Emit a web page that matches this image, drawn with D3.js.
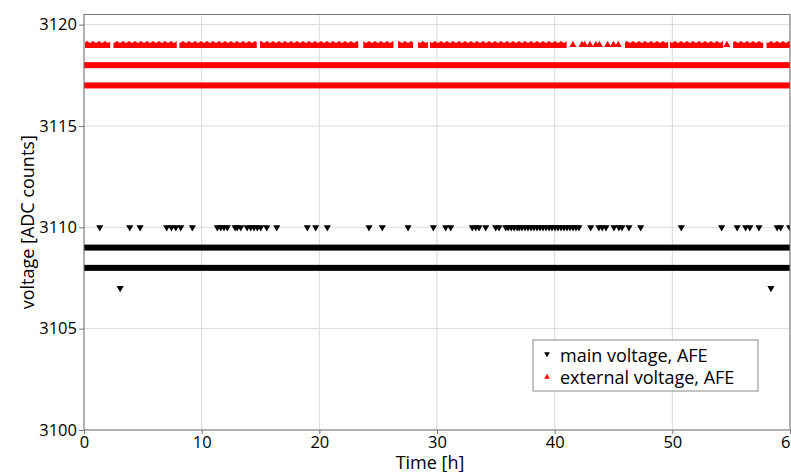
<!DOCTYPE html>
<html>
<head>
<meta charset="utf-8">
<script src="https://cdn.jsdelivr.net/npm/d3@7"></script>
<style>
  body { margin: 0; overflow: hidden; background: #fff; }
  text { font-family: "Open Sans", sans-serif; }
</style>
</head>
<body>
<div id="chart"></div>
<script>
// ---- data ----
const xTicks = [0, 10, 20, 30, 40, 50, 60];
const yTicks = [3100, 3105, 3110, 3115, 3120];

// main voltage: continuous sample runs [value, tStart, tEnd]
const mainRuns = [
  [3109, 0, 60],
  [3108, 0, 60]
];
// main voltage: sparse samples at 3110
const main3110 = [1.34, 3.89, 4.77, 7.03, 7.43, 7.80, 8.22, 9.21, 11.33, 11.62, 11.90, 12.18,
  12.84, 13.03, 13.32, 13.86, 14.17, 14.45, 14.73, 15.02, 15.53, 16.38, 18.98, 19.69, 20.68,
  24.22, 25.35, 27.54, 29.69, 30.74, 31.16, 33.00, 33.29, 33.57, 34.14, 34.99, 35.27,
  35.84, 36.05, 36.31, 36.56, 36.82, 36.99, 37.22, 37.48, 37.73, 37.99, 38.24, 38.50, 38.75,
  39.01, 39.26, 39.52, 39.77, 40.03, 40.28, 40.54, 40.79, 41.05, 41.30, 41.56, 41.81, 42.06,
  43.06, 43.76, 44.04, 44.36, 45.04, 45.46, 45.72, 46.31, 47.31, 50.76, 54.19, 55.51, 56.23,
  56.59, 57.36, 58.91, 59.20, 59.97];
// main voltage: sparse samples at 3107
const main3107 = [3.07, 58.38];

// external voltage: continuous runs
const extRuns = [
  [3118, 0, 60],
  [3117, 0, 60]
];
// external voltage: runs at 3119 (broken by gaps), edges of the packed markers
const ext3119Runs = [
  [0.09, 2.22], [2.50, 7.88], [8.11, 14.68], [14.96, 23.31], [23.74, 26.30], [26.69, 27.96],
  [28.39, 29.24], [29.40, 41.02], [45.97, 49.65], [49.80, 54.32], [55.17, 57.72], [58.01, 60]
];
// external voltage: isolated samples at 3119
const ext3119 = [41.55, 42.32, 42.55, 43.00, 43.50, 43.80, 44.50, 45.00, 45.40, 54.64];

const legendLabels = ["main voltage, AFE", "external voltage, AFE"];

// ---- layout ----
const width = 800, height = 472;
const margin = { top: 14.5, right: 10, bottom: 42, left: 84 };
const plotRight = 790, plotBottom = 430;

const svg = d3.select("#chart").append("svg")
  .attr("width", width)
  .attr("height", height);

const x = d3.scaleLinear().domain([0, 60]).range([margin.left, plotRight]);
const y = d3.scaleLinear().domain([3100, 3120.5]).range([plotBottom, margin.top]);

const defs = svg.append("defs");
defs.append("clipPath").attr("id", "plotclip")
  .append("rect")
  .attr("x", margin.left).attr("y", margin.top)
  .attr("width", plotRight - margin.left).attr("height", plotBottom - margin.top);

// sawtooth texture for the packed triangle row
const rowTop = Math.round(y(3119) - 3.5);
const pat = defs.append("pattern")
  .attr("id", "saw")
  .attr("patternUnits", "userSpaceOnUse")
  .attr("width", 6).attr("height", 7)
  .attr("y", rowTop);
pat.append("path").attr("d", "M0,7 L0,2 L3,0 L6,2 L6,7 Z").attr("fill", "#ff0000");

// grid
svg.append("g")
  .selectAll("line").data(xTicks).join("line")
  .attr("x1", d => x(d)).attr("x2", d => x(d))
  .attr("y1", margin.top).attr("y2", plotBottom)
  .attr("stroke", "#d9d9d9").attr("stroke-width", 1);
svg.append("g")
  .selectAll("line").data(yTicks).join("line")
  .attr("x1", margin.left).attr("x2", plotRight)
  .attr("y1", d => y(d)).attr("y2", d => y(d))
  .attr("stroke", "#d9d9d9").attr("stroke-width", 1);

const plot = svg.append("g").attr("clip-path", "url(#plotclip)");

const tri = d3.symbol().type(d3.symbolTriangle).size(22);

// main voltage (black, down triangles)
plot.append("g").selectAll("rect").data(mainRuns).join("rect")
  .attr("x", d => x(d[1]) - 3.5)
  .attr("width", d => x(d[2]) - x(d[1]) + 7)
  .attr("y", d => y(d[0]) - 3)
  .attr("height", 6)
  .attr("fill", "#000");

plot.append("g").selectAll("path").data(main3110.map(t => [t, 3110]).concat(main3107.map(t => [t, 3107])))
  .join("path")
  .attr("d", tri)
  .attr("transform", d => `translate(${x(d[0])},${y(d[1])}) rotate(180)`)
  .attr("fill", "#000");

// external voltage (red, up triangles)
plot.append("g").selectAll("rect").data(extRuns).join("rect")
  .attr("x", d => x(d[1]) - 3.5)
  .attr("width", d => x(d[2]) - x(d[1]) + 7)
  .attr("y", d => y(d[0]) - 3)
  .attr("height", 6)
  .attr("fill", "#ff0000");

plot.append("g").selectAll("rect").data(ext3119Runs).join("rect")
  .attr("x", d => x(d[0]))
  .attr("width", d => x(d[1]) - x(d[0]))
  .attr("y", rowTop)
  .attr("height", 7)
  .attr("fill", "url(#saw)");

plot.append("g").selectAll("path").data(ext3119).join("path")
  .attr("d", tri)
  .attr("transform", d => `translate(${x(d)},${y(3119)})`)
  .attr("fill", "#ff0000");

// axes
const xAxis = svg.append("g")
  .attr("transform", `translate(0,${plotBottom})`)
  .call(d3.axisBottom(x).tickValues(xTicks).tickSize(4).tickPadding(2).tickFormat(d3.format("d")));
const yAxis = svg.append("g")
  .attr("transform", `translate(${margin.left},0)`)
  .call(d3.axisLeft(y).tickValues(yTicks).tickSize(5).tickPadding(2).tickFormat(d3.format("d")));

[xAxis, yAxis].forEach(a => {
  a.select(".domain").remove();
  a.selectAll(".tick line").attr("stroke", "#777");
  a.selectAll(".tick text").attr("fill", "#000").style("font-size", "16.5px");
});

// frame
svg.append("rect")
  .attr("x", margin.left).attr("y", margin.top)
  .attr("width", plotRight - margin.left).attr("height", plotBottom - margin.top)
  .attr("fill", "none").attr("stroke", "#777").attr("stroke-width", 1);

// axis labels
svg.append("text")
  .attr("x", (margin.left + plotRight) / 2 - 7)
  .attr("y", 469)
  .attr("text-anchor", "middle")
  .style("font-size", "18px")
  .text("Time [h]");

svg.append("text")
  .attr("transform", `translate(34,${(margin.top + plotBottom) / 2}) rotate(-90)`)
  .attr("text-anchor", "middle")
  .style("font-size", "18px")
  .text("voltage [ADC counts]");

// legend
const legend = svg.append("g").attr("transform", "translate(533,340)");
legend.append("rect")
  .attr("width", 225).attr("height", 51)
  .attr("fill", "#fff").attr("stroke", "#888");
const small = d3.symbol().type(d3.symbolTriangle).size(14);
legend.append("path").attr("d", small)
  .attr("transform", "translate(14,14) rotate(180)").attr("fill", "#000");
legend.append("path").attr("d", small)
  .attr("transform", "translate(14,37)").attr("fill", "#ff0000");
legendLabels.forEach((l, i) => {
  legend.append("text")
    .attr("x", 27).attr("y", 21.5 + i * 22)
    .style("font-size", "18px")
    .text(l);
});
</script>
</body>
</html>
